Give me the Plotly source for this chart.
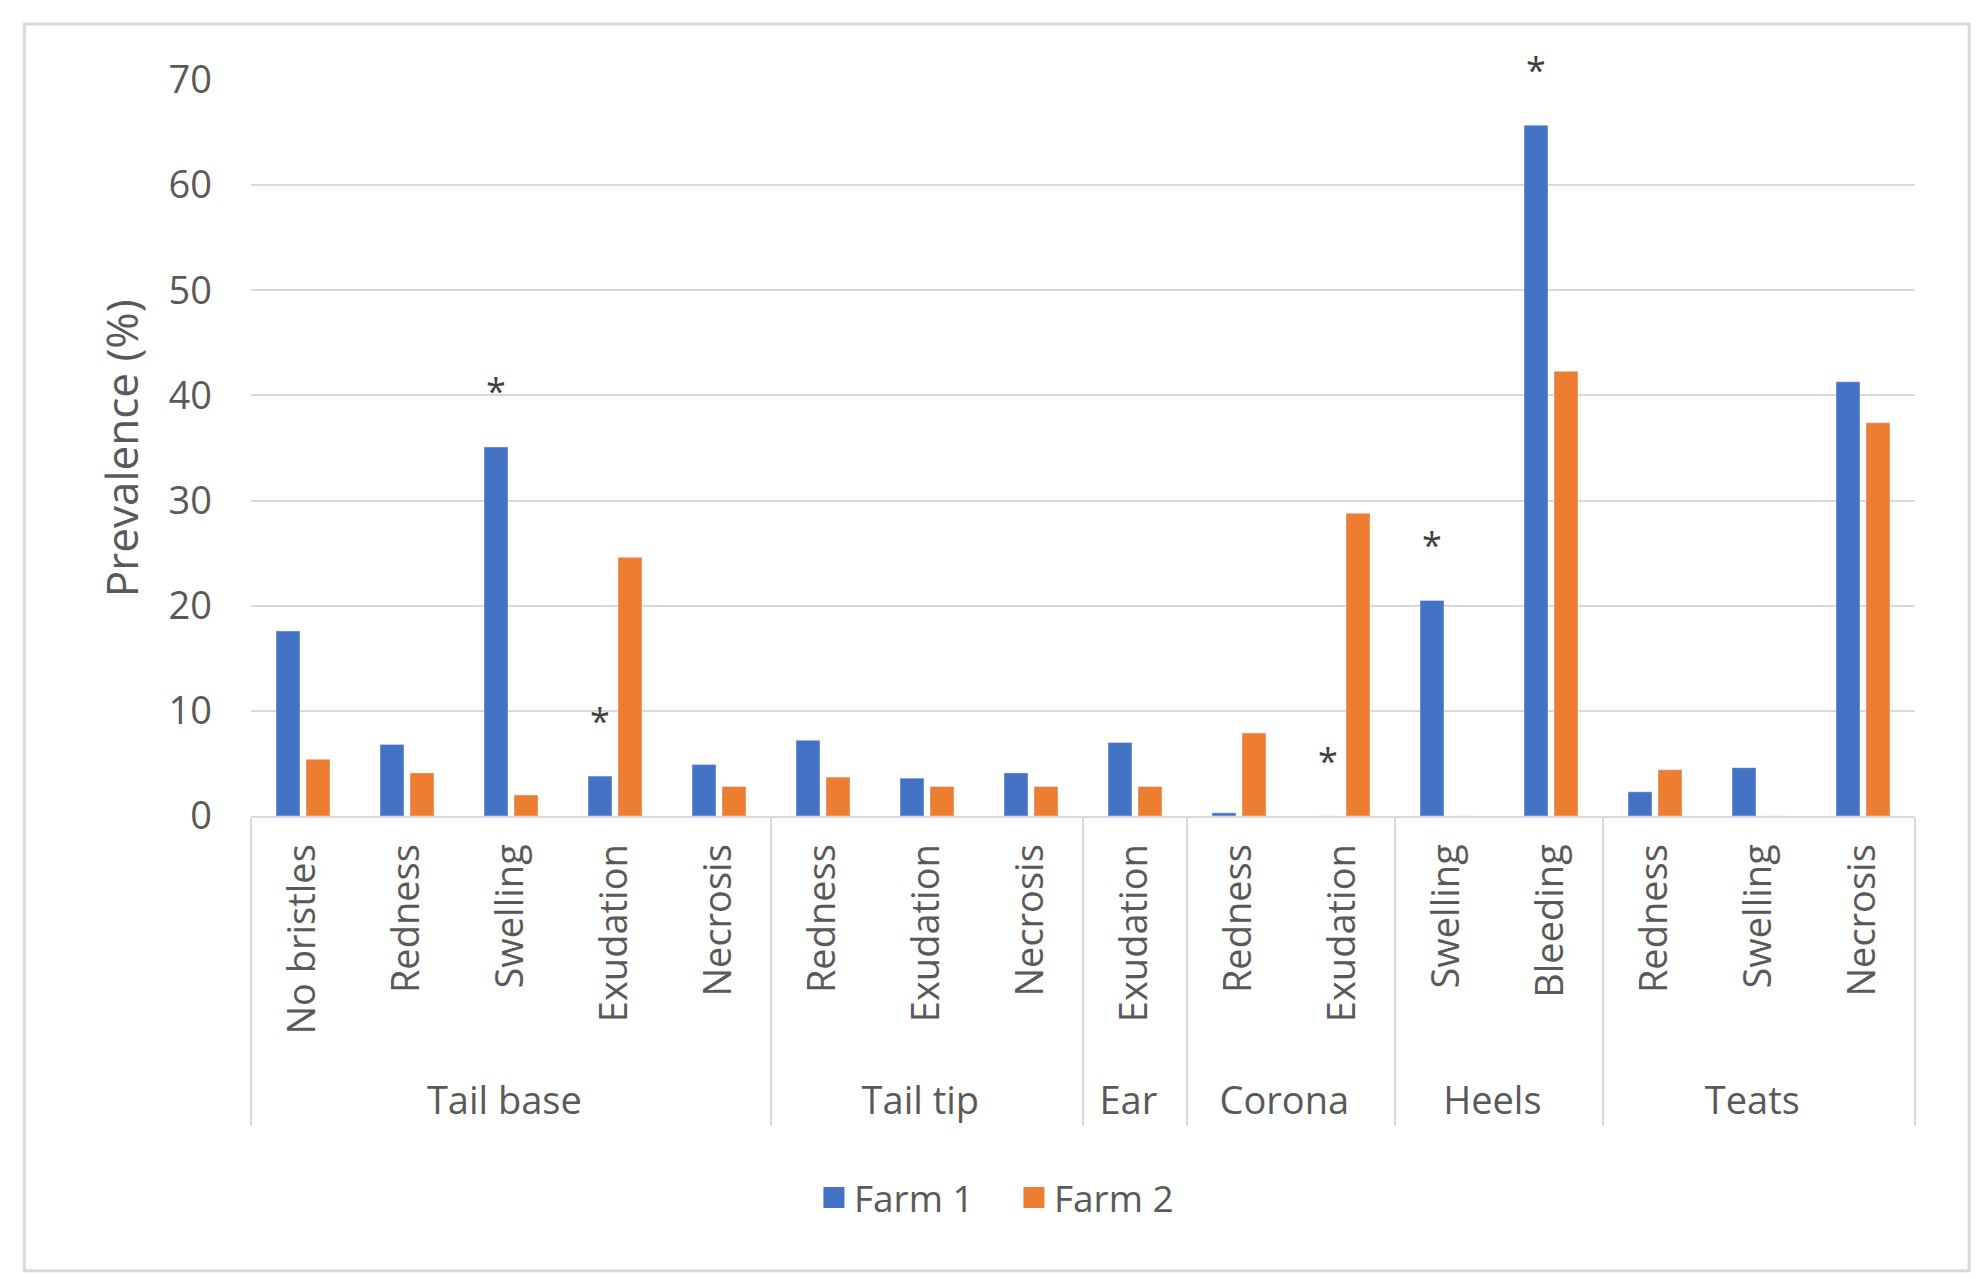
import plotly.graph_objects as go

# body regions and lesion types
regions = ["Tail base"] * 5 + ["Tail tip"] * 3 + ["Ear"] + ["Corona"] * 2 + ["Heels"] * 2 + ["Teats"] * 3
lesions = ["No bristles", "Redness", "Swelling", "Exudation", "Necrosis",
           "Redness", "Exudation", "Necrosis",
           "Exudation",
           "Redness", "Exudation",
           "Swelling", "Bleeding",
           "Redness", "Swelling", "Necrosis"]

farm1 = [17.6, 6.8, 35.1, 3.8, 4.9, 7.2, 3.6, 4.1, 7.0, 0.3, 0.0, 20.5, 65.7, 2.3, 4.6, 41.3]
farm2 = [5.4, 4.1, 2.0, 24.6, 2.8, 3.7, 2.8, 2.8, 2.8, 7.9, 28.8, 0.0, 42.3, 4.4, 0.0, 37.4]

# categories marked as significant (star over the Farm 1 bar)
star_idx = [2, 3, 10, 11, 12]

yticks = [0, 10, 20, 30, 40, 50, 60, 70]

BLUE = "#4472C4"
ORANGE = "#ED7D31"
GREY = "#595959"
LINE = "#D9D9D9"
FONT = "Open Sans"

# leading no-break spaces push the region row a bit lower under the rotated labels
pad = "\u00a0" * 2
xcats = [regions, [pad + s for s in lesions]]

fig = go.Figure()
fig.add_trace(go.Bar(x=xcats, y=farm1, name="Farm 1", marker_color=BLUE,
                     showlegend=False, legendgroup="f1"))
fig.add_trace(go.Bar(x=xcats, y=farm2, name="Farm 2", marker_color=ORANGE,
                     showlegend=False, legendgroup="f2"))

# legend entries with bigger square swatches
for name, col, grp in [("Farm 1", BLUE, "f1"), ("Farm 2", ORANGE, "f2")]:
    fig.add_trace(go.Scatter(x=xcats, y=[None] * len(lesions), mode="markers",
                             name=name, legendgroup=grp,
                             marker=dict(symbol="square", size=16, color=col,
                                         line=dict(color=col, width=5))))

bargap = 0.423
slot = (1 - bargap) / 2
for i in star_idx:
    fig.add_annotation(x=i - slot / 2, y=farm1[i], yshift=56, text="*", showarrow=False,
                       font=dict(family=FONT, size=36, color="#404040"),
                       xanchor="center", yanchor="middle")

# y title, centred on the plot
fig.add_annotation(xref="paper", yref="paper", x=-0.078, y=0.5, text="Prevalence (%)",
                   textangle=-90, showarrow=False, xanchor="center", yanchor="middle",
                   font=dict(family=FONT, size=44, color=GREY))

# outer frame
fig.add_shape(type="rect", xref="paper", yref="paper",
              x0=-0.1362, x1=1.0325, y0=-0.618, y1=1.0761,
              line=dict(color=LINE, width=3))

fig.update_layout(
    width=1979, height=1279,
    margin=dict(l=243, r=72, t=72, b=471),
    paper_bgcolor="white", plot_bgcolor="white",
    barmode="group", bargap=bargap, bargroupgap=0.2,
    font=dict(family=FONT, color=GREY, size=38),
    legend=dict(orientation="h", x=0.3383, xanchor="left", y=-0.519, yanchor="middle",
                font=dict(size=37, color=GREY), itemwidth=30, traceorder="normal",
                entrywidth=155, entrywidthmode="pixels"),
)
fig.update_yaxes(range=[0, 70], tickvals=yticks, showgrid=True, gridcolor=LINE, gridwidth=2,
                 zeroline=False, showline=False, ticks="", ticklabelstandoff=38,
                 tickfont=dict(size=38, color=GREY))
fig.update_xaxes(type="multicategory", range=[-0.5, len(lesions) - 0.5], tickangle=-90,
                 showline=True, linecolor=LINE, linewidth=2,
                 showdividers=True, dividercolor=LINE, dividerwidth=2, ticklabelstandoff=11,
                 tickfont=dict(size=38, color=GREY), ticks="")

fig.write_html("out.html")
